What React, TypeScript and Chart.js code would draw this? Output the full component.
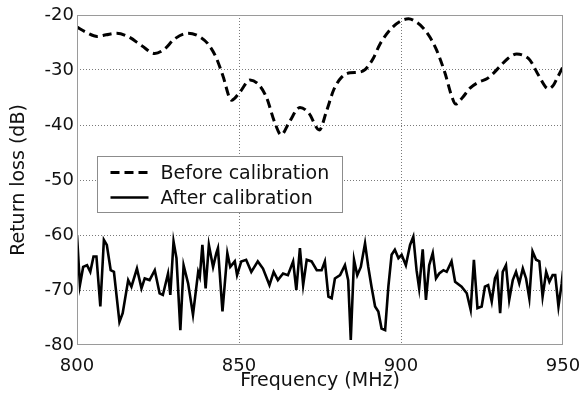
import React, { useEffect, useRef } from "react";
import { Chart, registerables } from "chart.js";

Chart.register(...registerables);

const xTicks = [800, 850, 900, 950];
const yTicks = [-80, -70, -60, -50, -40, -30, -20];

const beforeFreq = [
  800, 803, 806.2, 809, 812.3, 816, 820, 824, 827, 830, 834.3, 838, 840.5, 843, 845, 847.7,
  850.3, 853.4, 856, 858.5, 861, 863, 865.5, 868.8, 871.5, 874.8, 877, 879.3, 881.7, 884.3,
  887, 889, 891.5, 893.5, 897.6, 902.3, 905, 906.9, 909, 911, 913.6, 915.5, 916.9, 919,
  921.3, 924, 926.5, 928.5, 930.6, 933, 935.7, 938, 939.8, 942.4, 945.5, 947, 948, 950,
];
const beforeLoss = [
  -22.2, -23.2, -23.9, -23.6, -23.3, -24.0, -25.6, -27.0, -26.2, -24.4, -23.3, -24.0, -25.3,
  -27.8, -31.0, -35.5, -34.0, -31.8, -32.6, -35.0, -39.5, -41.8, -39.5, -36.8, -37.8, -40.9,
  -37.5, -33.5, -31.3, -30.5, -30.4, -29.9, -27.8, -25.3, -22.1, -20.7, -21.4, -22.4, -24.1,
  -26.4, -30.6, -34.5, -36.2, -35.0, -33.3, -32.2, -31.6, -30.6, -29.3, -27.9, -27.1, -27.4,
  -28.2, -30.9, -33.4, -32.8, -31.7, -29.4,
];

const afterFreq = [
  800, 800.9, 801.9, 803.1, 804.1, 805.1, 806, 807.2, 808.3, 809.2, 810.4, 811.4, 813.1, 814.1,
  815.8, 816.8, 818.5, 819.9, 820.9, 822.4, 824, 825.5, 826.5, 828.1, 828.8, 829.8, 830.7,
  831.9, 832.9, 834.3, 835.8, 837.4, 837.9, 838.7, 839.7, 840.7, 842, 843, 843.5, 844.9,
  846.4, 847.3, 848.7, 849.4, 850.7, 852.2, 853.8, 855.8, 857.4, 859.4, 860.7, 862, 863.6,
  865.1, 866.7, 867.7, 868.8, 869.8, 870.9, 872.4, 874, 875.5, 876.5, 877.6, 878.6, 879.6,
  881.2, 882.7, 883.7, 884.5, 885.5, 886.5, 887.6, 888.9, 889.9, 890.9, 892, 893, 894, 895.1,
  896.1, 897.1, 898.1, 899.2, 900.2, 901.5, 902.8, 903.8, 904.8, 905.6, 906.7, 907.7, 908.7,
  909.8, 910.8, 911.8, 913.1, 914.1, 915.6, 916.7, 918.7, 920.3, 921.5, 922.5, 923.6, 924.9,
  925.9, 926.9, 928, 929, 929.7, 930.6, 931.4, 932.4, 933.4, 934.5, 935.5, 936.5, 937.6,
  938.6, 939.6, 940.6, 941.7, 942.7, 943.7, 944.8, 945.8, 946.8, 947.6, 948.6, 949.6, 950,
];
const afterLoss = [
  -60, -69.1, -65.8, -65.5, -66.7, -63.9, -63.9, -73, -60.9, -61.8, -66.4, -66.7, -75.8, -74.2,
  -68.2, -69.4, -66.1, -69.7, -67.9, -68.2, -66.4, -70.6, -70.9, -67, -70.9, -61.2, -64.2,
  -77.3, -65.5, -68.8, -74.5, -66.7, -67.6, -61.8, -69.7, -61.8, -65.8, -63.3, -62.4, -73.9,
  -63.3, -65.8, -64.8, -67.3, -64.8, -64.5, -66.7, -64.8, -66.1, -69.1, -66.7, -68.2, -67,
  -67.3, -64.8, -70, -62.4, -69.1, -64.5, -64.8, -66.4, -66.4, -64.8, -71.2, -71.5, -67.9,
  -67.3, -65.5, -68.2, -79.1, -64.5, -67.3, -65.8, -61.5, -65.8, -69.4, -73, -73.9, -77, -77.3,
  -69.4, -63.6, -62.7, -64.2, -63.6, -65.5, -61.8, -60.3, -66.4, -69.7, -62.6, -71.8, -65.5,
  -63.3, -67.9, -67, -66.4, -66.7, -64.8, -68.5, -69.4, -70.6, -73.6, -64.5, -73.3, -73,
  -69.4, -69.1, -72.1, -67.9, -67, -74.2, -66.7, -65.5, -71.8, -68.2, -66.7, -68.8, -66.1,
  -67.9, -71.5, -63, -64.5, -64.8, -71.2, -66.7, -68.5, -67.3, -67.3, -73, -68.8, -66.5,
];

const seriesNames = ["Before calibration", "After calibration"];
const xTitle = "Frequency (MHz)";
const yTitle = "Return loss (dB)";

const FONT = "'DejaVu Sans', sans-serif";

const framePlugin = {
  id: "frameAndLegend",
  afterDatasetsDraw(chart: any) {
    const { ctx, chartArea } = chart;
    ctx.save();
    ctx.strokeStyle = "#9a9a9a";
    ctx.lineWidth = 1;
    ctx.setLineDash([]);
    ctx.strokeRect(chartArea.left + 0.5, chartArea.top + 0.5, chartArea.right - chartArea.left - 1, chartArea.bottom - chartArea.top - 1);

    // legend box inside chart area
    const bx = chartArea.left + 20.5;
    const by = chartArea.top + 141.5;
    const bw = 245;
    const bh = 56;
    ctx.fillStyle = "#ffffff";
    ctx.fillRect(bx, by, bw, bh);
    ctx.strokeStyle = "#8c8c8c";
    ctx.strokeRect(bx, by, bw, bh);

    const ds = chart.data.datasets;
    const rows = [by + 16, by + 41];
    ds.forEach((d: any, i: number) => {
      ctx.beginPath();
      ctx.strokeStyle = d.borderColor;
      ctx.lineWidth = d.borderWidth;
      ctx.setLineDash(d.borderDash || []);
      ctx.moveTo(bx + 13, rows[i]);
      ctx.lineTo(bx + 51, rows[i]);
      ctx.stroke();
      ctx.setLineDash([]);
      ctx.fillStyle = "#111111";
      ctx.font = `19px ${FONT}`;
      ctx.textBaseline = "alphabetic";
      ctx.textAlign = "left";
      ctx.fillText(d.label, bx + 63, rows[i] + 6);
    });
    ctx.restore();
  },
};

export default function App() {
  const ref = useRef<HTMLCanvasElement | null>(null);
  useEffect(() => {
    if (!ref.current) return;
    const gridColor = (c: any, lo: number, hi: number) =>
      c.tick && (c.tick.value === lo || c.tick.value === hi) ? "rgba(0,0,0,0)" : "#7a7a7a";
    const chart = new Chart(ref.current, {
      type: "line",
      data: {
        datasets: [
          {
            label: seriesNames[0],
            data: beforeFreq.map((x, i) => ({ x, y: beforeLoss[i] })),
            borderColor: "#000000",
            borderWidth: 3,
            borderDash: [9, 5],
            pointRadius: 0,
            cubicInterpolationMode: "monotone",
            fill: false,
          },
          {
            label: seriesNames[1],
            data: afterFreq.map((x, i) => ({ x, y: afterLoss[i] })),
            borderColor: "#000000",
            borderWidth: 2.6,
            pointRadius: 0,
            tension: 0,
            fill: false,
          },
        ],
      },
      options: {
        animation: false,
        responsive: false,
        layout: { autoPadding: false, padding: { left: 8, right: 18, top: 15, bottom: 3 } },
        plugins: { legend: { display: false }, tooltip: { enabled: false } },
        scales: {
          x: {
            type: "linear",
            min: 800,
            max: 950,
            afterBuildTicks: (s: any) => {
              s.ticks = xTicks.map((v) => ({ value: v }));
            },
            afterFit: (s: any) => {
              s.height = 47;
              s.paddingLeft = 0;
              s.paddingRight = 0;
            },
            ticks: { color: "#111", font: { family: FONT, size: 18 }, padding: 11, maxRotation: 0 },
            grid: { color: (c: any) => gridColor(c, 800, 950), drawTicks: false, lineWidth: 1 },
            border: { display: false, dash: [1, 2] },
            title: { display: true, text: xTitle, color: "#111", font: { family: FONT, size: 19 }, padding: 0 },
          },
          y: {
            type: "linear",
            min: -80,
            max: -20,
            afterBuildTicks: (s: any) => {
              s.ticks = yTicks.map((v) => ({ value: v }));
            },
            afterFit: (s: any) => {
              s.width = 69;
              s.paddingTop = 0;
              s.paddingBottom = 0;
            },
            ticks: { color: "#111", font: { family: FONT, size: 18 }, padding: 3 },
            grid: { color: (c: any) => gridColor(c, -80, -20), drawTicks: false, lineWidth: 1 },
            border: { display: false, dash: [1, 2] },
            title: { display: true, text: yTitle, color: "#111", font: { family: FONT, size: 19 }, padding: 0 },
          },
        },
      },
      plugins: [framePlugin],
    } as any);
    return () => chart.destroy();
  }, []);
  return (
    <div style={{ position: "absolute", left: 0, top: 0, width: 581, height: 395, background: "#fff" }}>
      <canvas ref={ref} width={581} height={395} />
    </div>
  );
}
